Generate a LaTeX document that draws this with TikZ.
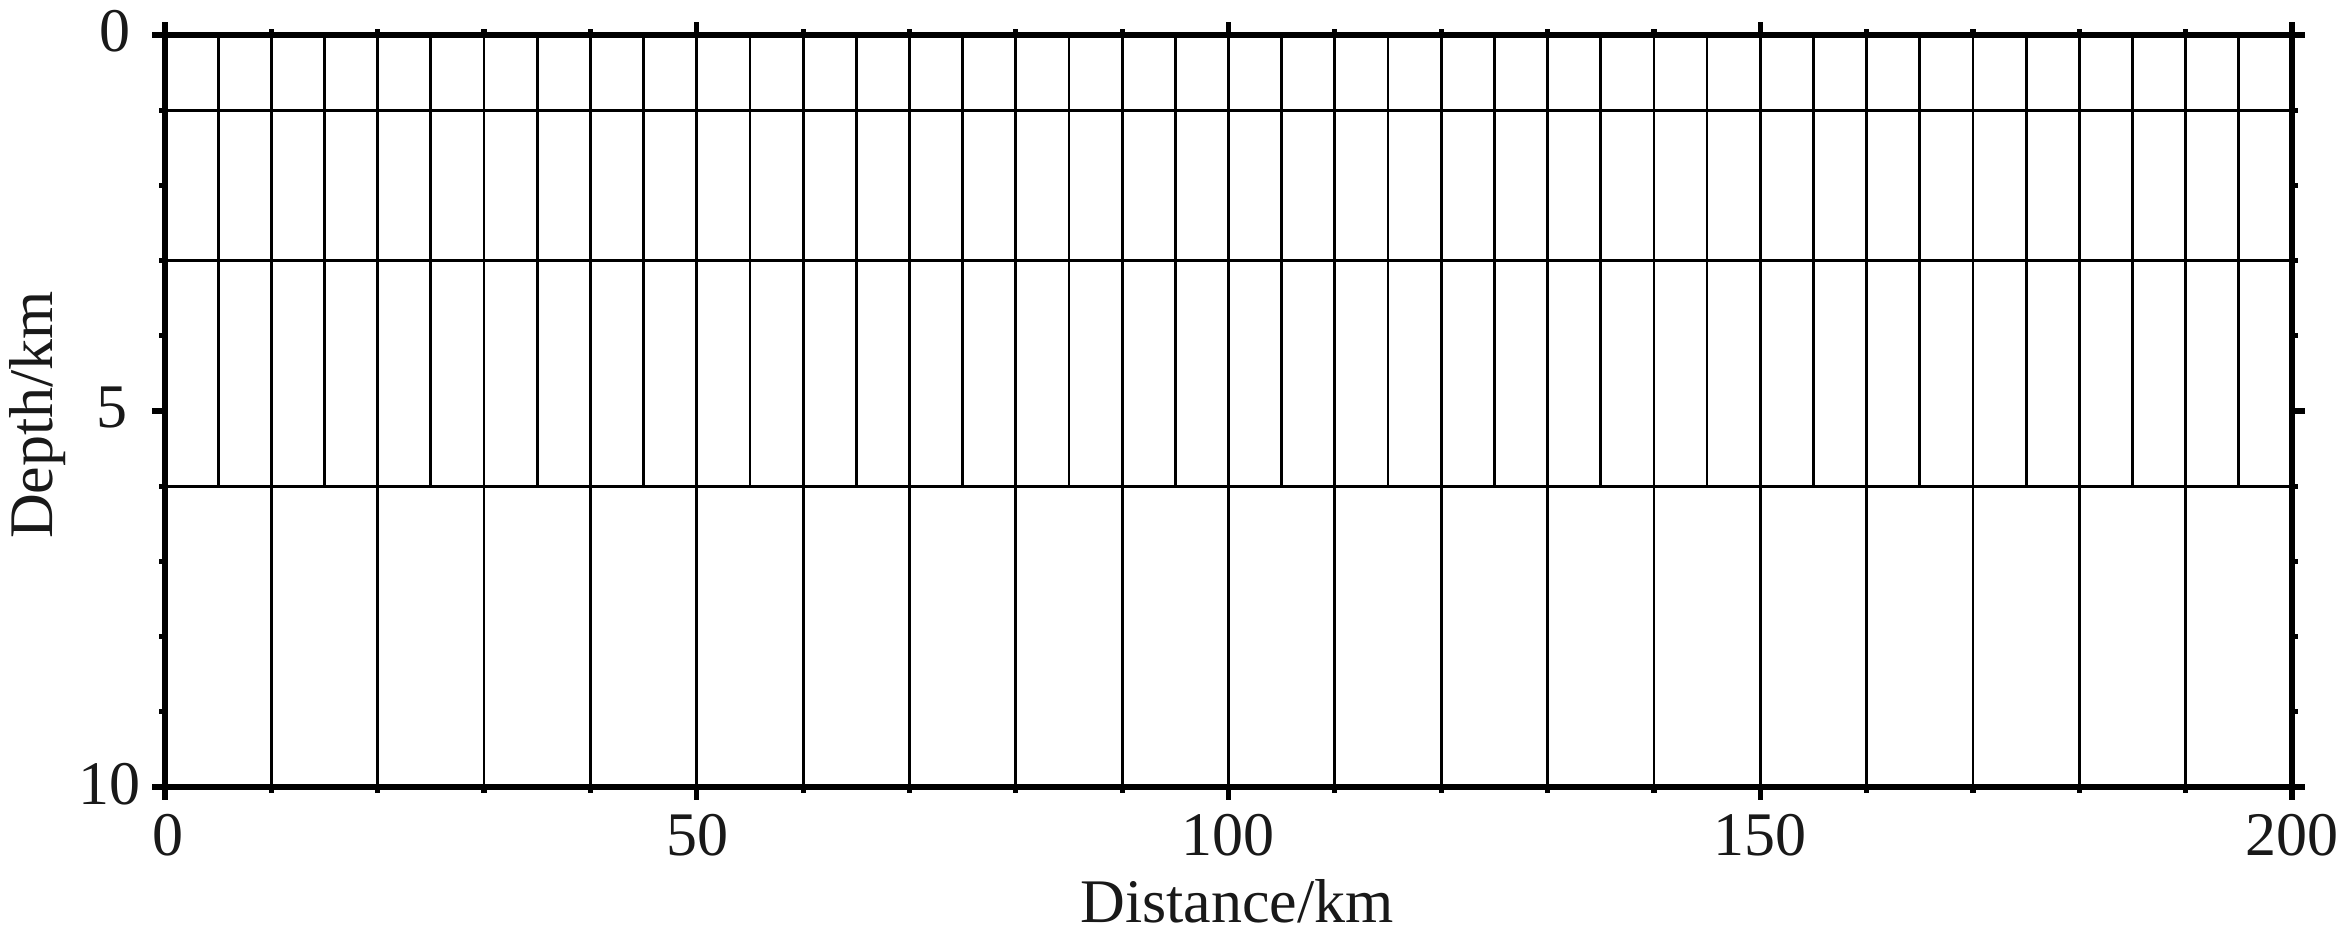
\documentclass[tikz,border=0pt]{standalone}
\usepackage{fontspec}
\setmainfont{Liberation Serif}
\begin{document}
\begin{tikzpicture}[x=0.5pt,y=-0.5pt,
  axisline/.style={line width=2.6pt, line cap=rect},
  tickline/.style={line width=2.6pt},
  gridline/.style={line width=1.4pt},
  lab/.style={font=\fontsize{31}{36}\selectfont, inner sep=0pt, text=black!90}]
\useasboundingbox[fill=white] (0,0) rectangle (2341,940);
% grid
\foreach \d in {1,3,6}
  \draw[gridline] (165,{35+\d*75.2}) -- (2292,{35+\d*75.2});
\foreach \k in {5,10,...,195}
  \draw[gridline] ({165+\k*10.635},35) -- ({165+\k*10.635},486.2);
\foreach \k in {10,20,...,190}
  \draw[gridline] ({165+\k*10.635},486.2) -- ({165+\k*10.635},787);
% frame
\draw[axisline] (165,35) rectangle (2292,787);
% x ticks
\foreach \k in {10,20,...,190} {
  \draw[tickline] ({165+\k*10.635},35) -- ({165+\k*10.635},29);
  \draw[tickline] ({165+\k*10.635},787) -- ({165+\k*10.635},793);
}
\foreach \k in {0,50,...,200} {
  \draw[tickline] ({165+\k*10.635},35) -- ({165+\k*10.635},22);
  \draw[tickline] ({165+\k*10.635},787) -- ({165+\k*10.635},800);
}
% y ticks
\foreach \d in {1,2,...,9} {
  \draw[tickline] (165,{35+\d*75.2}) -- (159,{35+\d*75.2});
  \draw[tickline] (2292,{35+\d*75.2}) -- (2298,{35+\d*75.2});
}
\foreach \d in {0,5,10} {
  \draw[tickline] (165,{35+\d*75.2}) -- (152,{35+\d*75.2});
  \draw[tickline] (2292,{35+\d*75.2}) -- (2305,{35+\d*75.2});
}
% y labels
\node[lab, anchor=base east] (y0) at (131,52) {0};
\node[lab, anchor=base east] (y5) at (128,428) {5};
\node[lab, anchor=base east] (y10) at (141,805) {10};
% x labels
\node[lab, anchor=base] (x0) at (168,855) {0};
\node[lab, anchor=base] (x50) at (697,855) {50};
\node[lab, anchor=base] (x100) at (1228,855) {100};
\node[lab, anchor=base] (x150) at (1760,855) {150};
\node[lab, anchor=base] (x200) at (2292,855) {200};
% axis titles
\node[lab, anchor=base] (xt) at (1237,922) {Distance/km};
\node[lab, rotate=90, anchor=base] (yt) at (52,415) {Depth/km};
\end{tikzpicture}
\end{document}
